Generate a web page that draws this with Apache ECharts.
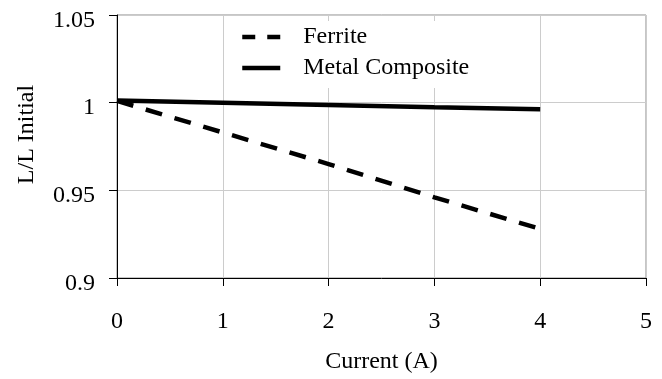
<!DOCTYPE html>
<html>
<head>
<meta charset="utf-8">
<script src="https://cdn.jsdelivr.net/npm/echarts@6/dist/echarts.min.js"></script>
<style>
  html, body { margin: 0; padding: 0; background: #fff; }
  #chart { width: 662px; height: 379px; }
</style>
</head>
<body>
<div id="chart"></div>
<script>
// Current sweep (A)
const current = [0, 1, 2, 3, 4];
// Normalised inductance L / L initial
const ferrite = [1.001, 0.983, 0.965, 0.946, 0.928];
const metalComposite = [1.0012, 1.0000, 0.9987, 0.9974, 0.9962];

const xTicks = { min: 0, max: 5, step: 1 };
const yTicks = { min: 0.9, max: 1.05, step: 0.05 };

const FONT = '"Liberation Serif", "Times New Roman", serif';
const FS = 24;

const pairs = (xs, ys) => xs.map((x, i) => [x, ys[i]]);

// legend entries draw only the line sample, no marker
const noMarker = { color: 'transparent', borderColor: 'transparent', borderWidth: 0 };

const chart = echarts.init(document.getElementById('chart'), null, { renderer: 'canvas' });

chart.setOption({
  backgroundColor: '#ffffff',
  animation: false,
  textStyle: { fontFamily: FONT, color: '#000' },
  grid: {
    left: 117, right: 16, top: 15, bottom: 100,
    show: true, borderColor: '#8c8c8c', borderWidth: 1, backgroundColor: 'transparent'
  },
  legend: {
    orient: 'vertical',
    left: 230, top: 21,
    z: 1,
    padding: [4, 14, 8, 10],
    backgroundColor: '#ffffff',
    itemWidth: 38, itemHeight: 14, itemGap: 7,
    textStyle: { fontFamily: FONT, fontSize: FS, lineHeight: 24, color: '#000', padding: [0, 0, 0, 18] },
    data: [
      { name: 'Ferrite', itemStyle: noMarker, lineStyle: { type: [13, 12], width: 4.5, color: '#000' } },
      { name: 'Metal Composite', itemStyle: noMarker, lineStyle: { type: 'solid', width: 4.5, color: '#000' } }
    ]
  },
  xAxis: {
    type: 'value',
    min: xTicks.min, max: xTicks.max, interval: xTicks.step,
    name: 'Current (A)',
    nameLocation: 'middle',
    nameGap: 72,
    nameTextStyle: { fontFamily: FONT, fontSize: FS, color: '#000' },
    axisLine: { show: true, onZero: false, lineStyle: { color: '#000', width: 1 } },
    axisTick: { show: true, inside: false, length: 8, lineStyle: { color: '#000' } },
    axisLabel: { margin: 32, fontFamily: FONT, fontSize: FS, color: '#000' },
    splitLine: { show: true, lineStyle: { color: '#cccccc', width: 1 } }
  },
  yAxis: {
    type: 'value',
    min: yTicks.min, max: yTicks.max, interval: yTicks.step,
    name: 'L/L Initial',
    nameLocation: 'middle',
    nameGap: 78,
    nameTextStyle: { fontFamily: FONT, fontSize: FS, color: '#000', padding: [0, 0, 0, 24] },
    axisLine: { show: true, onZero: false, lineStyle: { color: '#000', width: 1 } },
    axisTick: { show: true, inside: false, length: 8, lineStyle: { color: '#000' } },
    axisLabel: {
      margin: 22, fontFamily: FONT, fontSize: FS, color: '#000',
      formatter: '{v|{value}}',
      rich: { v: { fontFamily: FONT, fontSize: FS, color: '#000', padding: [11, 0, 0, 0] } }
    },
    splitLine: { show: true, lineStyle: { color: '#cccccc', width: 1 } }
  },
  series: [
    {
      name: 'Ferrite',
      type: 'line',
      data: pairs(current, ferrite),
      symbol: 'none',
      lineStyle: { color: '#000', width: 4.5, type: [17, 13], cap: 'butt' },
      itemStyle: { color: '#000' },
      z: 3
    },
    {
      name: 'Metal Composite',
      type: 'line',
      data: pairs(current, metalComposite),
      symbol: 'none',
      lineStyle: { color: '#000', width: 4.5, type: 'solid' },
      itemStyle: { color: '#000' },
      z: 3
    }
  ]
});
</script>
</body>
</html>
